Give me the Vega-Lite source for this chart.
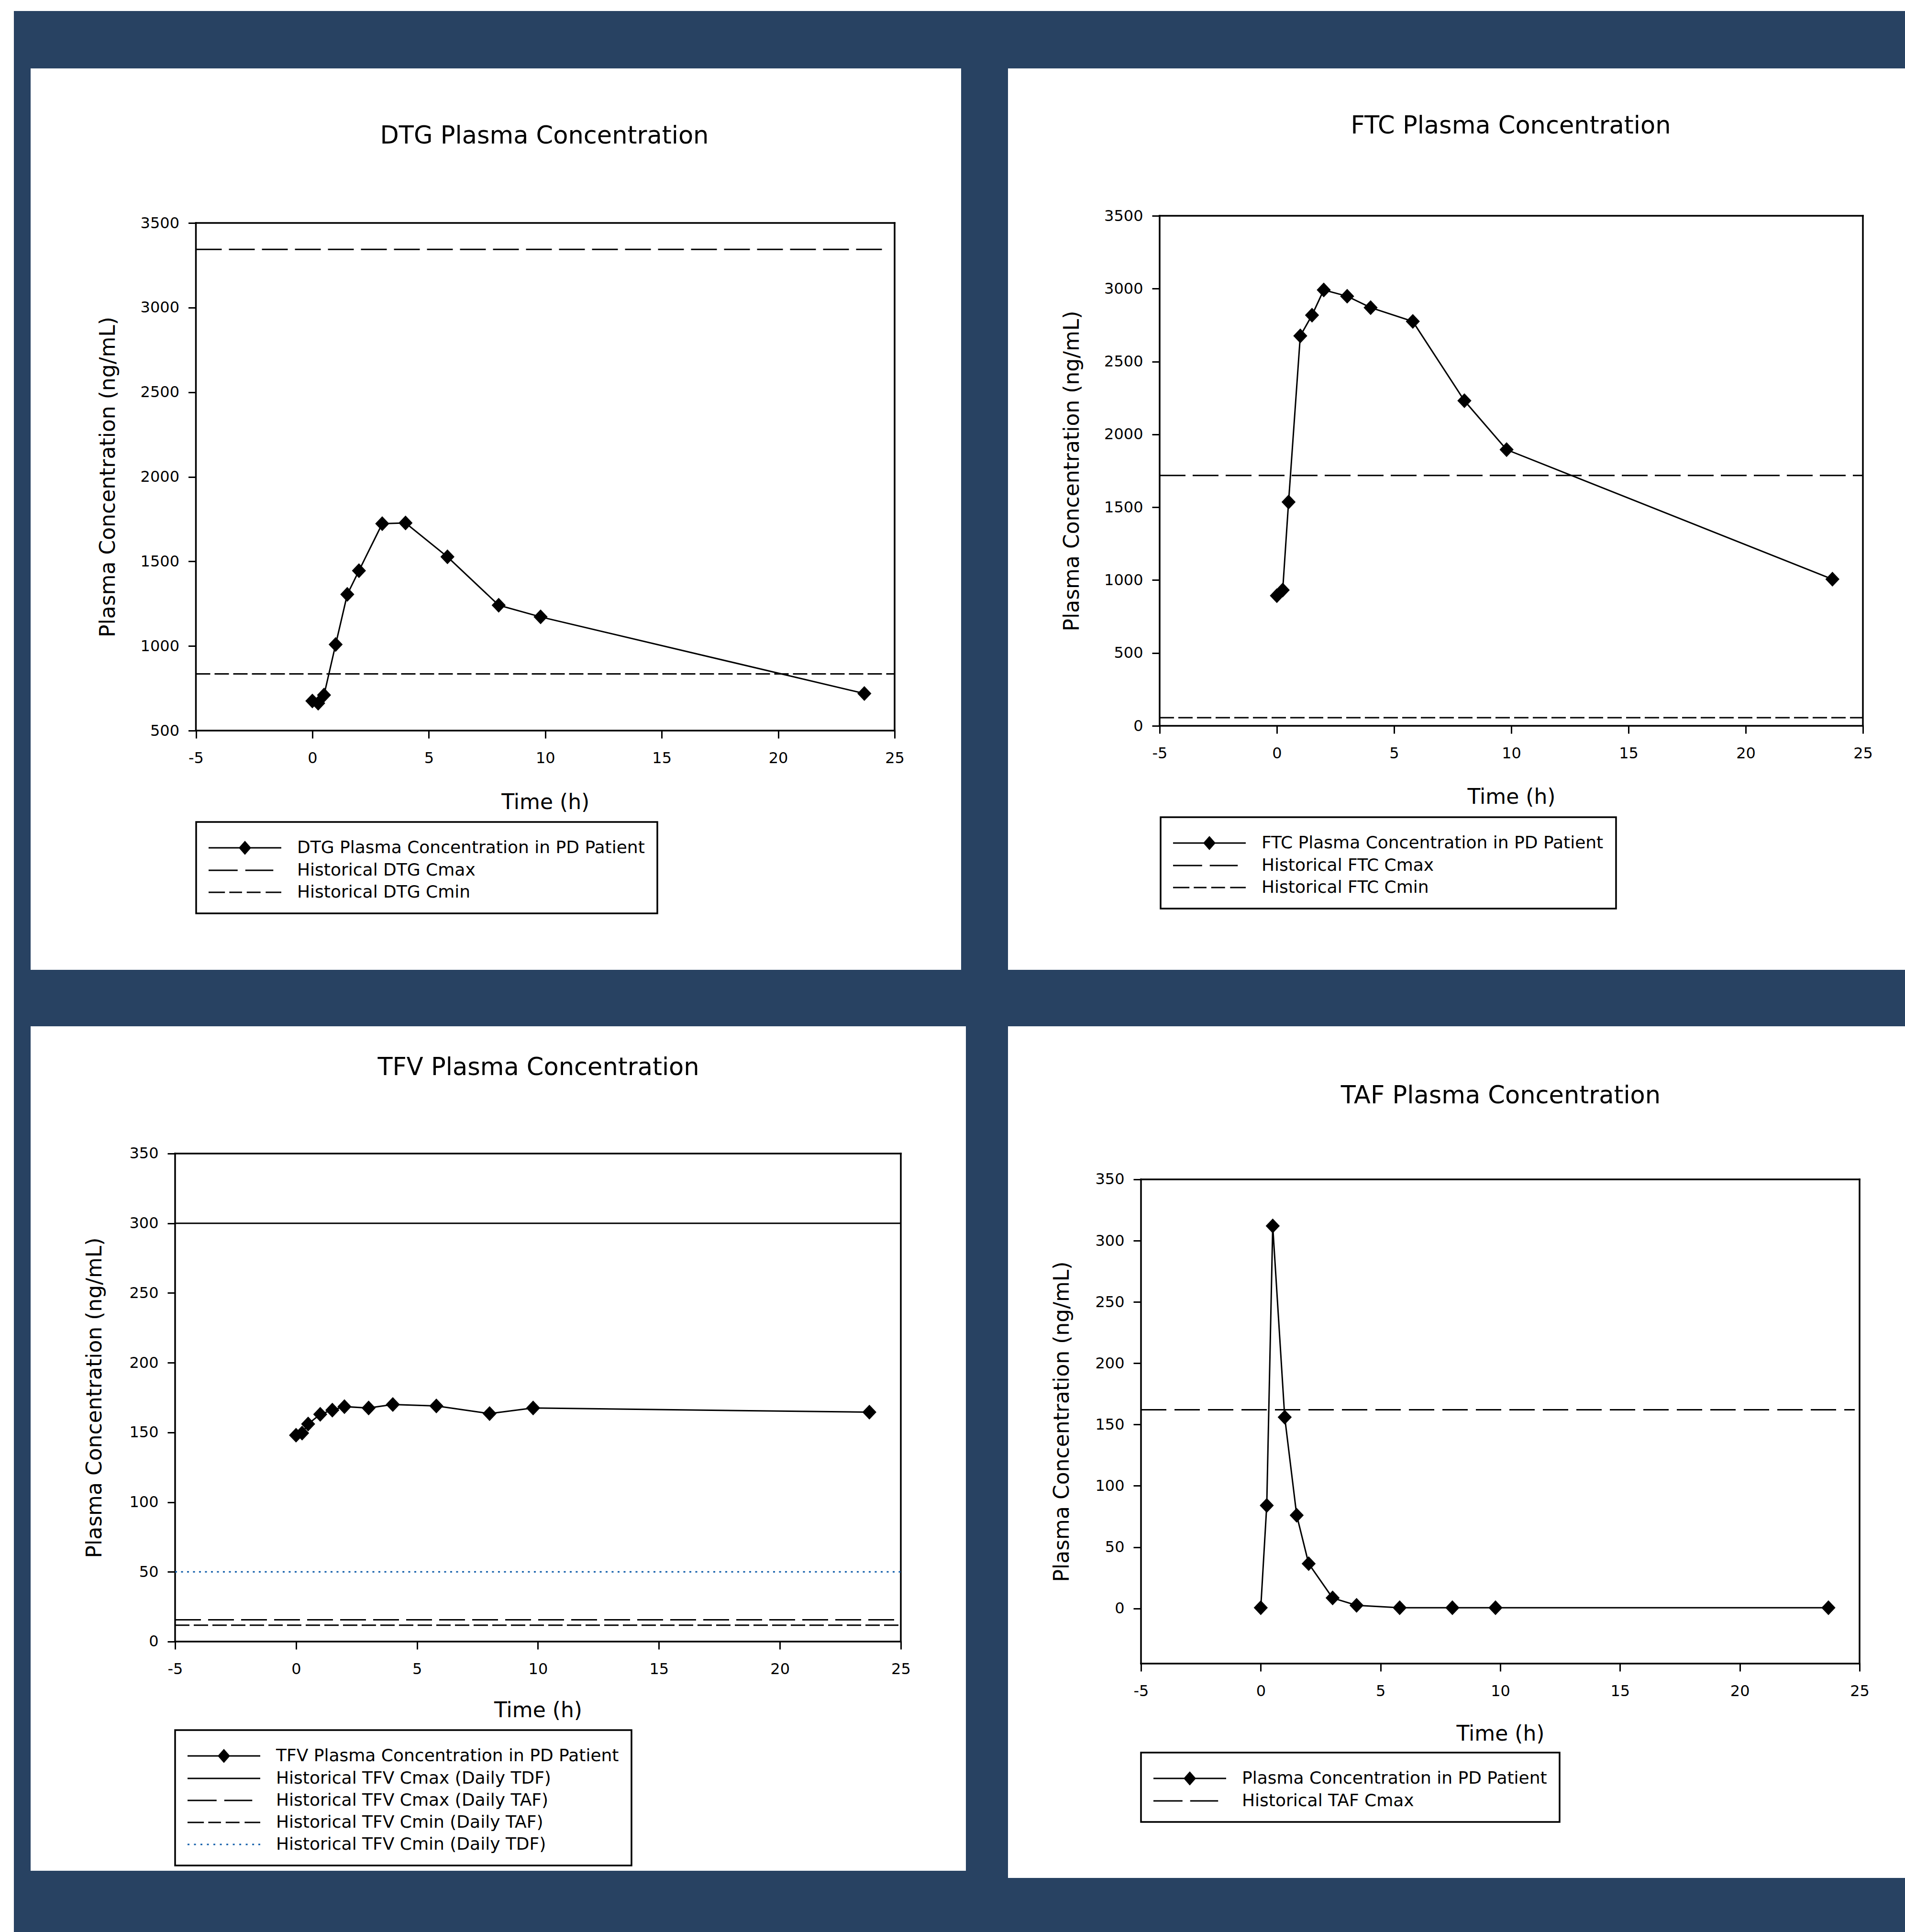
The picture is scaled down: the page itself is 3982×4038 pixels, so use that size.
{
  "$schema": "https://vega.github.io/schema/vega-lite/v6.json",
  "background": "#284262",
  "padding": 0,
  "bounds": "flush",
  "spacing": 0,
  "config": {
    "font": "DejaVu Sans",
    "view": {"fill": "white", "stroke": null},
    "title": {"font": "DejaVu Sans", "fontSize": 51, "fontWeight": "normal", "color": "black", "anchor": "middle"},
    "axis": {"domain": false, "grid": false, "ticks": true, "tickColor": "black", "tickWidth": 3, "tickSize": 16,
      "labelFont": "DejaVu Sans", "labelFontSize": 32, "labelColor": "black", "labelOverlap": false, "labelFlush": false,
      "titleFont": "DejaVu Sans", "titleFontSize": 44, "titleFontWeight": "normal", "titleColor": "black",
      "titleBaseline": "middle", "titleAlign": "center", "labelExpr": "'' + datum.value"},
    "axisX": {"labelPadding": 26},
    "axisY": {"labelPadding": 19},
    "rule": {"color": "black", "strokeWidth": 3},
    "legend": {"title": null, "orient": "none", "direction": "vertical", "padding": 26, "strokeColor": "black", "strokeWidth": 3.5, "fillColor": "white",
      "labelFont": "DejaVu Sans", "labelFontSize": 36, "labelColor": "black", "labelLimit": 0, "labelOffset": 129,
      "symbolSize": 2809, "symbolStrokeWidth": 3, "symbolOpacity": 1, "rowPadding": 0}
  },
  "datasets": {
    "dtg": [{"t":0,"c":675},{"t":0.25,"c":662},{"t":0.5,"c":710},{"t":1,"c":1009},{"t":1.5,"c":1305},{"t":2,"c":1445},{"t":3,"c":1723},{"t":4,"c":1727},{"t":5.8,"c":1527},{"t":8,"c":1241},{"t":9.8,"c":1172},{"t":23.7,"c":719}],
    "ftc": [{"t":0,"c":893},{"t":0.25,"c":932},{"t":0.5,"c":1536},{"t":1,"c":2676},{"t":1.5,"c":2818},{"t":2,"c":2991},{"t":3,"c":2948},{"t":4,"c":2870},{"t":5.8,"c":2775},{"t":8,"c":2231},{"t":9.8,"c":1895},{"t":23.7,"c":1006}],
    "tfv": [{"t":0,"c":148},{"t":0.25,"c":149.5},{"t":0.5,"c":156},{"t":1,"c":163},{"t":1.5,"c":166},{"t":2,"c":168.5},{"t":3,"c":167.5},{"t":4,"c":170},{"t":5.8,"c":169},{"t":8,"c":163.5},{"t":9.8,"c":167.5},{"t":23.7,"c":164.5}],
    "taf": [{"t":0,"c":0.5},{"t":0.25,"c":84},{"t":0.5,"c":312},{"t":1,"c":156},{"t":1.5,"c":76},{"t":2,"c":36.5},{"t":3,"c":8.5},{"t":4,"c":2.5},{"t":5.8,"c":0.5},{"t":8,"c":0.5},{"t":9.8,"c":0.5},{"t":23.7,"c":0.5}],
    "one": [{}]
  },
  "hconcat": [
    {"width": 29, "height": 4038, "view": {"fill": "white", "stroke": null}, "data": {"name": "one"}, "mark": {"type": "rect", "color": "white"}, "encoding": {}},
    {
      "vconcat": [
        {"width": 3953, "height": 23, "view": {"fill": "white", "stroke": null}, "data": {"name": "one"}, "mark": {"type": "rect", "color": "white"}, "encoding": {}},
        {
          "hconcat": [
            {"width": 1, "height": 1, "view": {"fill": null, "stroke": null}, "data": {"name": "one"}, "mark": {"type": "point", "opacity": 0}, "encoding": {}},
            {
              "columns": 2,
              "bounds": "flush",
              "spacing": {"row": 118, "column": 88},
              "resolve": {"scale": {"shape": "independent", "fill": "independent", "stroke": "independent"}, "legend": {"shape": "independent", "fill": "independent", "stroke": "independent"}},
              "concat": [
    {
      "width": 1945, "height": 1884,
      "title": {"text": "DTG Plasma Concentration", "offset": -168, "dx": 101.5},
      "layer": [
        {"data": {"name": "one"}, "mark": {"type": "rule", "strokeWidth": 3.5, "strokeCap": "square"},
         "encoding": {
           "x": {"datum": -5, "type": "quantitative", "scale": {"domain": [-12.097, 27.855], "nice": false, "zero": false},
                 "axis": {"title": "Time (h)", "values": [-5,0,5,10,15,20,25], "offset": -500, "titleX": 1075.75, "titleY": 150}},
           "y": {"datum": 500, "type": "quantitative", "scale": {"domain": [-913.7, 4413.3], "nice": false, "zero": false},
                 "axis": {"title": "Plasma Concentration (ng/mL)", "values": [500,1000,1500,2000,2500,3000,3500], "offset": -345.5, "titleX": -183, "titleY": 853.5}},
           "y2": {"datum": 3500}}},
        {"data": {"name": "one"}, "mark": {"type": "rule", "strokeWidth": 3.5, "strokeCap": "square"}, "encoding": {"x": {"datum": 25}, "y": {"datum": 500}, "y2": {"datum": 3500}}},
        {"data": {"name": "one"}, "mark": {"type": "rule", "strokeWidth": 3.5, "strokeCap": "square"}, "encoding": {"x": {"datum": -5}, "x2": {"datum": 25}, "y": {"datum": 500}}},
        {"data": {"name": "one"}, "mark": {"type": "rule", "strokeWidth": 3.5, "strokeCap": "square"}, "encoding": {"x": {"datum": -5}, "x2": {"datum": 25}, "y": {"datum": 3500}}},
        {"data": {"values": [{"series": "Historical DTG Cmax", "v": 3344}]},
         "mark": {"type": "rule", "strokeDash": [54, 15]},
         "encoding": {"x": {"datum": -5}, "x2": {"datum": 24.7}, "y": {"field": "v", "type": "quantitative"}}},
        {"data": {"values": [{"series": "Historical DTG Cmin", "v": 835}]},
         "mark": {"type": "rule", "strokeDash": [30, 9]},
         "encoding": {"x": {"datum": -5}, "x2": {"datum": 25}, "y": {"field": "v", "type": "quantitative"}}},
        {"data": {"name": "dtg"}, "mark": {"type": "line", "color": "black", "strokeWidth": 3},
         "encoding": {"x": {"field": "t", "type": "quantitative"}, "y": {"field": "c", "type": "quantitative"}}},
        {"data": {"name": "dtg"}, "mark": {"type": "point", "shape": "M0,-1L0.95,0L0,1L-0.95,0Z", "filled": true, "color": "black", "opacity": 1, "size": 960},
         "encoding": {"x": {"field": "t", "type": "quantitative"}, "y": {"field": "c", "type": "quantitative"}}},
        {"data": {"values": [{"series": "DTG Plasma Concentration in PD Patient"}, {"series": "Historical DTG Cmax"}, {"series": "Historical DTG Cmin"}]},
         "mark": {"type": "point", "filled": true, "opacity": 1, "clip": true, "size": 2809, "strokeWidth": 3},
         "encoding": {
           "x": {"datum": -1000}, "y": {"datum": 1000},
           "shape": {"field": "series", "type": "nominal", "scale": {"domain": ["DTG Plasma Concentration in PD Patient", "Historical DTG Cmax", "Historical DTG Cmin"], "range": ["M-1.057,0H4.679M1.811,-0.472L2.226,0L1.811,0.472L1.396,0Z", "M-1.057,0H1.237M1.84,0H4.048", "M-1.057,0H0.234M0.578,0H1.582M1.954,0H3.044M3.446,0H4.679"]}, "legend": {"legendX": 346, "legendY": 1575}},
           "fill": {"field": "series", "type": "nominal", "scale": {"domain": ["DTG Plasma Concentration in PD Patient", "Historical DTG Cmax", "Historical DTG Cmin"], "range": ["black", "black", "black"]}, "legend": {"legendX": 346, "legendY": 1575}},
           "stroke": {"field": "series", "type": "nominal", "scale": {"domain": ["DTG Plasma Concentration in PD Patient", "Historical DTG Cmax", "Historical DTG Cmin"], "range": ["black", "black", "black"]}, "legend": {"legendX": 346, "legendY": 1575}}}}
      ]
    },
    {
      "width": 1875, "height": 1884,
      "title": {"text": "FTC Plasma Concentration", "offset": -147, "dx": 113.5},
      "layer": [
        {"data": {"name": "one"}, "mark": {"type": "rule", "strokeWidth": 3.5, "strokeCap": "square"},
         "encoding": {
           "x": {"datum": -5, "type": "quantitative", "scale": {"domain": [-11.469, 26.796], "nice": false, "zero": false},
                 "axis": {"title": "Time (h)", "values": [-5,0,5,10,15,20,25], "offset": -510, "titleX": 1052, "titleY": 149}},
           "y": {"datum": 0, "type": "quantitative", "scale": {"domain": [-1674.5, 4511.3], "nice": false, "zero": false},
                 "axis": {"title": "Plasma Concentration (ng/mL)", "values": [0,500,1000,1500,2000,2500,3000,3500], "offset": -317, "titleX": -183, "titleY": 841}},
           "y2": {"datum": 3500}}},
        {"data": {"name": "one"}, "mark": {"type": "rule", "strokeWidth": 3.5, "strokeCap": "square"}, "encoding": {"x": {"datum": 25}, "y": {"datum": 0}, "y2": {"datum": 3500}}},
        {"data": {"name": "one"}, "mark": {"type": "rule", "strokeWidth": 3.5, "strokeCap": "square"}, "encoding": {"x": {"datum": -5}, "x2": {"datum": 25}, "y": {"datum": 0}}},
        {"data": {"name": "one"}, "mark": {"type": "rule", "strokeWidth": 3.5, "strokeCap": "square"}, "encoding": {"x": {"datum": -5}, "x2": {"datum": 25}, "y": {"datum": 3500}}},
        {"data": {"values": [{"series": "Historical FTC Cmax", "v": 1718}]},
         "mark": {"type": "rule", "strokeDash": [54, 15]},
         "encoding": {"x": {"datum": -5}, "x2": {"datum": 25}, "y": {"field": "v", "type": "quantitative"}}},
        {"data": {"values": [{"series": "Historical FTC Cmin", "v": 56}]},
         "mark": {"type": "rule", "strokeDash": [30, 9]},
         "encoding": {"x": {"datum": -5}, "x2": {"datum": 25}, "y": {"field": "v", "type": "quantitative"}}},
        {"data": {"name": "ftc"}, "mark": {"type": "line", "color": "black", "strokeWidth": 3},
         "encoding": {"x": {"field": "t", "type": "quantitative"}, "y": {"field": "c", "type": "quantitative"}}},
        {"data": {"name": "ftc"}, "mark": {"type": "point", "shape": "M0,-1L0.95,0L0,1L-0.95,0Z", "filled": true, "color": "black", "opacity": 1, "size": 960},
         "encoding": {"x": {"field": "t", "type": "quantitative"}, "y": {"field": "c", "type": "quantitative"}}},
        {"data": {"values": [{"series": "FTC Plasma Concentration in PD Patient"}, {"series": "Historical FTC Cmax"}, {"series": "Historical FTC Cmin"}]},
         "mark": {"type": "point", "filled": true, "opacity": 1, "clip": true, "size": 2809, "strokeWidth": 3},
         "encoding": {
           "x": {"datum": -1000}, "y": {"datum": 1000},
           "shape": {"field": "series", "type": "nominal", "scale": {"domain": ["FTC Plasma Concentration in PD Patient", "Historical FTC Cmax", "Historical FTC Cmin"], "range": ["M-1.057,0H4.679M1.811,-0.472L2.226,0L1.811,0.472L1.396,0Z", "M-1.057,0H1.237M1.84,0H4.048", "M-1.057,0H0.234M0.578,0H1.582M1.954,0H3.044M3.446,0H4.679"]}, "legend": {"legendX": 319, "legendY": 1565}},
           "fill": {"field": "series", "type": "nominal", "scale": {"domain": ["FTC Plasma Concentration in PD Patient", "Historical FTC Cmax", "Historical FTC Cmin"], "range": ["black", "black", "black"]}, "legend": {"legendX": 319, "legendY": 1565}},
           "stroke": {"field": "series", "type": "nominal", "scale": {"domain": ["FTC Plasma Concentration in PD Patient", "Historical FTC Cmax", "Historical FTC Cmin"], "range": ["black", "black", "black"]}, "legend": {"legendX": 319, "legendY": 1565}}}}
      ]
    },
    {
      "width": 1955, "height": 1765,
      "title": {"text": "TFV Plasma Concentration", "offset": -113, "dx": 84},
      "layer": [
        {"data": {"name": "one"}, "mark": {"type": "rule", "strokeWidth": 3.5, "strokeCap": "square"},
         "encoding": {
           "x": {"datum": -5, "type": "quantitative", "scale": {"domain": [-10.972, 27.69], "nice": false, "zero": false},
                 "axis": {"title": "Time (h)", "values": [-5,0,5,10,15,20,25], "offset": -479, "titleX": 1060.5, "titleY": 144}},
           "y": {"datum": 0, "type": "quantitative", "scale": {"domain": [-164.4, 441.27], "nice": false, "zero": false},
                 "axis": {"title": "Plasma Concentration (ng/mL)", "values": [0,50,100,150,200,250,300,350], "offset": -302, "titleX": -168, "titleY": 776}},
           "y2": {"datum": 350}}},
        {"data": {"name": "one"}, "mark": {"type": "rule", "strokeWidth": 3.5, "strokeCap": "square"}, "encoding": {"x": {"datum": 25}, "y": {"datum": 0}, "y2": {"datum": 350}}},
        {"data": {"name": "one"}, "mark": {"type": "rule", "strokeWidth": 3.5, "strokeCap": "square"}, "encoding": {"x": {"datum": -5}, "x2": {"datum": 25}, "y": {"datum": 0}}},
        {"data": {"name": "one"}, "mark": {"type": "rule", "strokeWidth": 3.5, "strokeCap": "square"}, "encoding": {"x": {"datum": -5}, "x2": {"datum": 25}, "y": {"datum": 350}}},
        {"data": {"values": [{"series": "Historical TFV Cmax (Daily TDF)", "v": 300}]},
         "mark": {"type": "rule"},
         "encoding": {"x": {"datum": -5}, "x2": {"datum": 25}, "y": {"field": "v", "type": "quantitative"}}},
        {"data": {"values": [{"series": "Historical TFV Cmax (Daily TAF)", "v": 15.6}]},
         "mark": {"type": "rule", "strokeDash": [54, 15]},
         "encoding": {"x": {"datum": -5}, "x2": {"datum": 25}, "y": {"field": "v", "type": "quantitative"}}},
        {"data": {"values": [{"series": "Historical TFV Cmin (Daily TAF)", "v": 11.7}]},
         "mark": {"type": "rule", "strokeDash": [30, 9]},
         "encoding": {"x": {"datum": -5}, "x2": {"datum": 25}, "y": {"field": "v", "type": "quantitative"}}},
        {"data": {"values": [{"series": "Historical TFV Cmin (Daily TDF)", "v": 50}]},
         "mark": {"type": "rule", "color": "#0b5aa8", "strokeDash": [4, 8.5]},
         "encoding": {"x": {"datum": -5}, "x2": {"datum": 25}, "y": {"field": "v", "type": "quantitative"}}},
        {"data": {"name": "tfv"}, "mark": {"type": "line", "color": "black", "strokeWidth": 3},
         "encoding": {"x": {"field": "t", "type": "quantitative"}, "y": {"field": "c", "type": "quantitative"}}},
        {"data": {"name": "tfv"}, "mark": {"type": "point", "shape": "M0,-1L0.95,0L0,1L-0.95,0Z", "filled": true, "color": "black", "opacity": 1, "size": 960},
         "encoding": {"x": {"field": "t", "type": "quantitative"}, "y": {"field": "c", "type": "quantitative"}}},
        {"data": {"values": [{"series": "TFV Plasma Concentration in PD Patient"}, {"series": "Historical TFV Cmax (Daily TDF)"}, {"series": "Historical TFV Cmax (Daily TAF)"}, {"series": "Historical TFV Cmin (Daily TAF)"}, {"series": "Historical TFV Cmin (Daily TDF)"}]},
         "mark": {"type": "point", "filled": true, "opacity": 1, "clip": true, "size": 2809, "strokeWidth": 3},
         "encoding": {
           "x": {"datum": -1000}, "y": {"datum": 100},
           "shape": {"field": "series", "type": "nominal", "scale": {"domain": ["TFV Plasma Concentration in PD Patient", "Historical TFV Cmax (Daily TDF)", "Historical TFV Cmax (Daily TAF)", "Historical TFV Cmin (Daily TAF)", "Historical TFV Cmin (Daily TDF)"], "range": ["M-1.057,0H4.679M1.811,-0.472L2.226,0L1.811,0.472L1.396,0Z", "M-1.057,0H4.679", "M-1.057,0H1.237M1.84,0H4.048", "M-1.057,0H0.234M0.578,0H1.582M1.954,0H3.044M3.446,0H4.679", "M-1.057,0h0.15M-0.547,0h0.15M-0.037,0h0.15M0.473,0h0.15M0.983,0h0.15M1.493,0h0.15M2.003,0h0.15M2.513,0h0.15M3.023,0h0.15M3.533,0h0.15M4.043,0h0.15M4.529,0h0.15"]}, "legend": {"legendX": 302, "legendY": 1471}},
           "fill": {"field": "series", "type": "nominal", "scale": {"domain": ["TFV Plasma Concentration in PD Patient", "Historical TFV Cmax (Daily TDF)", "Historical TFV Cmax (Daily TAF)", "Historical TFV Cmin (Daily TAF)", "Historical TFV Cmin (Daily TDF)"], "range": ["black", "black", "black", "black", "#0b5aa8"]}, "legend": {"legendX": 302, "legendY": 1471}},
           "stroke": {"field": "series", "type": "nominal", "scale": {"domain": ["TFV Plasma Concentration in PD Patient", "Historical TFV Cmax (Daily TDF)", "Historical TFV Cmax (Daily TAF)", "Historical TFV Cmin (Daily TAF)", "Historical TFV Cmin (Daily TDF)"], "range": ["black", "black", "black", "black", "#0b5aa8"]}, "legend": {"legendX": 302, "legendY": 1471}}}}
      ]
    },
    {
      "width": 1875, "height": 1780,
      "title": {"text": "TAF Plasma Concentration", "offset": -172, "dx": 92.5},
      "layer": [
        {"data": {"name": "one"}, "mark": {"type": "rule", "strokeWidth": 3.5, "strokeCap": "square"},
         "encoding": {
           "x": {"datum": -5, "type": "quantitative", "scale": {"domain": [-10.553, 26.897], "nice": false, "zero": false},
                 "axis": {"title": "Time (h)", "values": [-5,0,5,10,15,20,25], "offset": -448, "titleX": 1029, "titleY": 147}},
           "y": {"datum": -45, "type": "quantitative", "scale": {"domain": [-219.9, 474.9], "nice": false, "zero": false},
                 "axis": {"title": "Plasma Concentration (ng/mL)", "values": [0,50,100,150,200,250,300,350], "offset": -278, "titleX": -165, "titleY": 826}},
           "y2": {"datum": 350}}},
        {"data": {"name": "one"}, "mark": {"type": "rule", "strokeWidth": 3.5, "strokeCap": "square"}, "encoding": {"x": {"datum": 25}, "y": {"datum": -45}, "y2": {"datum": 350}}},
        {"data": {"name": "one"}, "mark": {"type": "rule", "strokeWidth": 3.5, "strokeCap": "square"}, "encoding": {"x": {"datum": -5}, "x2": {"datum": 25}, "y": {"datum": -45}}},
        {"data": {"name": "one"}, "mark": {"type": "rule", "strokeWidth": 3.5, "strokeCap": "square"}, "encoding": {"x": {"datum": -5}, "x2": {"datum": 25}, "y": {"datum": 350}}},
        {"data": {"values": [{"series": "Historical TAF Cmax", "v": 162}]},
         "mark": {"type": "rule", "strokeDash": [53, 17]},
         "encoding": {"x": {"datum": -5}, "x2": {"datum": 24.8}, "y": {"field": "v", "type": "quantitative"}}},
        {"data": {"name": "taf"}, "mark": {"type": "line", "color": "black", "strokeWidth": 3},
         "encoding": {"x": {"field": "t", "type": "quantitative"}, "y": {"field": "c", "type": "quantitative"}}},
        {"data": {"name": "taf"}, "mark": {"type": "point", "shape": "M0,-1L0.95,0L0,1L-0.95,0Z", "filled": true, "color": "black", "opacity": 1, "size": 960},
         "encoding": {"x": {"field": "t", "type": "quantitative"}, "y": {"field": "c", "type": "quantitative"}}},
        {"data": {"values": [{"series": "Plasma Concentration in PD Patient"}, {"series": "Historical TAF Cmax"}]},
         "mark": {"type": "point", "filled": true, "opacity": 1, "clip": true, "size": 2809, "strokeWidth": 3},
         "encoding": {
           "x": {"datum": -1000}, "y": {"datum": 100},
           "shape": {"field": "series", "type": "nominal", "scale": {"domain": ["Plasma Concentration in PD Patient", "Historical TAF Cmax"], "range": ["M-1.057,0H4.679M1.811,-0.472L2.226,0L1.811,0.472L1.396,0Z", "M-1.057,0H1.237M1.84,0H4.048"]}, "legend": {"legendX": 278, "legendY": 1518}},
           "fill": {"field": "series", "type": "nominal", "scale": {"domain": ["Plasma Concentration in PD Patient", "Historical TAF Cmax"], "range": ["black", "black"]}, "legend": {"legendX": 278, "legendY": 1518}},
           "stroke": {"field": "series", "type": "nominal", "scale": {"domain": ["Plasma Concentration in PD Patient", "Historical TAF Cmax"], "range": ["black", "black"]}, "legend": {"legendX": 278, "legendY": 1518}}}}
      ]
    }
              ]
            }
          ],
          "spacing": 34,
          "bounds": "flush"
        }
      ],
      "spacing": 120,
      "bounds": "flush"
    }
  ]
}
